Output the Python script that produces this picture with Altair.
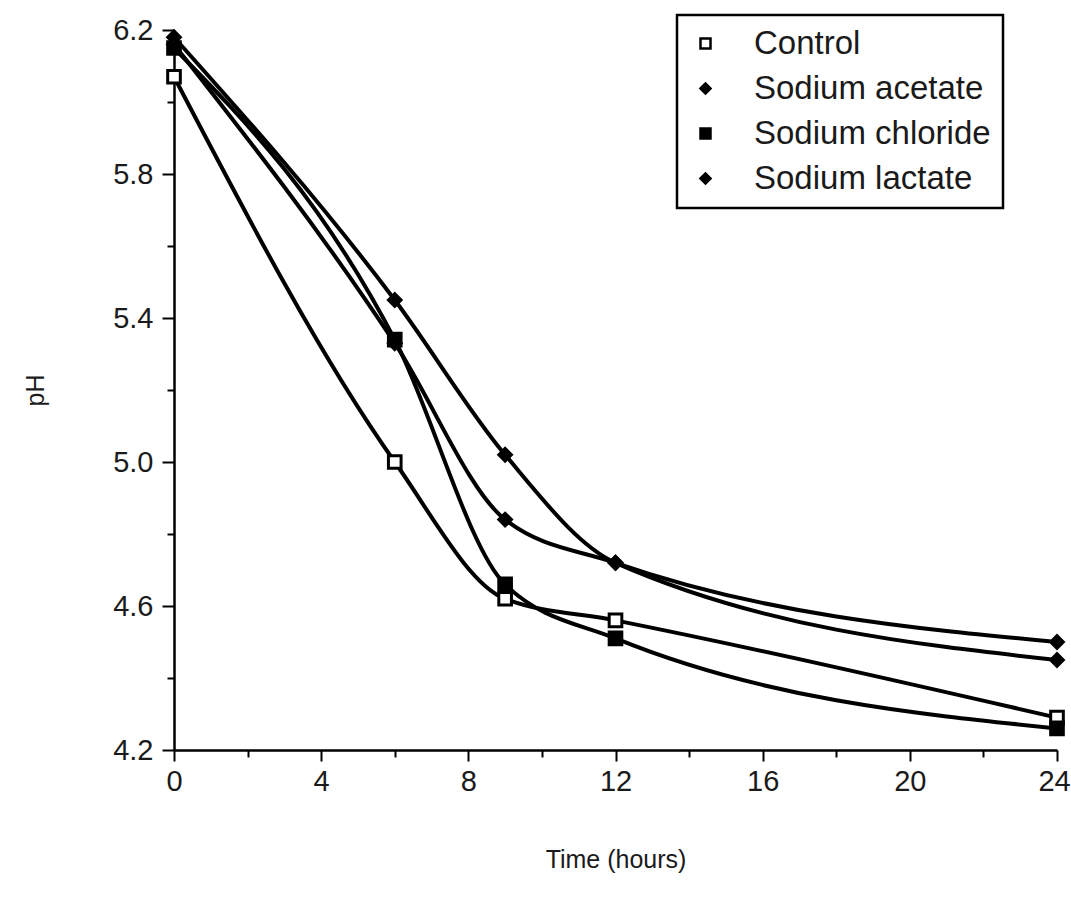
import altair as alt
import pandas as pd

# Sampling times (hours) and pH readings for each treatment
hours = [0, 6, 9, 12, 24]
series_names = ["Control", "Sodium acetate", "Sodium chloride", "Sodium lactate"]
control = [6.07, 5.00, 4.62, 4.56, 4.29]
sodium_acetate = [6.18, 5.45, 5.02, 4.72, 4.45]
sodium_chloride = [6.15, 5.34, 4.66, 4.51, 4.26]
sodium_lactate = [6.16, 5.33, 4.84, 4.72, 4.50]

# Axis tick values
x_ticks = [0, 2, 4, 6, 8, 10, 12, 14, 16, 18, 20, 22, 24]
y_ticks = [4.2, 4.4, 4.6, 4.8, 5.0, 5.2, 5.4, 5.6, 5.8, 6.0, 6.2]

marker_shapes = ["square", "diamond", "square", "diamond"]
marker_fills = ["white", "black", "black", "black"]
marker_strokes = ["black", "black", "black", "black"]

rows = []
for name, vals in zip(series_names, [control, sodium_acetate, sodium_chloride, sodium_lactate]):
    for h, v in zip(hours, vals):
        rows.append({"Series": name, "Time": h, "pH": v})
df = pd.DataFrame(rows)

FONT = "Liberation Sans"

x_enc = alt.X(
    "Time:Q",
    scale=alt.Scale(domain=[0, 24], nice=False, zero=False),
    axis=alt.Axis(
        values=x_ticks,
        labelExpr="datum.value % 4 == 0 ? datum.label : ''",
        tickSize={"condition": {"test": "datum.value % 4 != 0", "value": 7}, "value": 11},
        labelOffset={"condition": {"test": "datum.value == 24", "value": -3}, "value": 0},
        labelOverlap=False,
        labelFlush=False,
        labelPadding=6,
        title="Time (hours)",
        titlePadding=51,
        grid=False,
    ),
)
y_enc = alt.Y(
    "pH:Q",
    scale=alt.Scale(domain=[4.2, 6.2], nice=False, zero=False),
    axis=alt.Axis(
        values=y_ticks,
        labelExpr="round(datum.value * 10) % 4 == 2 ? format(datum.value, '.1f') : ''",
        tickSize={"condition": {"test": "round(datum.value * 10) % 4 == 0", "value": 7}, "value": 12},
        labelOverlap=False,
        labelFlush=False,
        labelPadding=9,
        title="pH",
        titlePadding=64,
        grid=False,
    ),
)

lines = alt.Chart(df).mark_line(
    color="black", strokeWidth=4, interpolate="monotone"
).encode(x=x_enc, y=y_enc, detail="Series:N")

points = alt.Chart(df).mark_point(
    filled=True, strokeWidth=3, size=160, opacity=1
).encode(
    x=x_enc,
    y=y_enc,
    shape=alt.Shape(
        "Series:N",
        scale=alt.Scale(domain=series_names, range=marker_shapes),
        legend=alt.Legend(title=None),
    ),
    fill=alt.Fill(
        "Series:N",
        scale=alt.Scale(domain=series_names, range=marker_fills),
        legend=alt.Legend(title=None),
    ),
    stroke=alt.Stroke(
        "Series:N",
        scale=alt.Scale(domain=series_names, range=marker_strokes),
        legend=alt.Legend(title=None),
    ),
)

chart = (
    alt.layer(lines, points)
    .properties(
        width=883,
        height=720,
        autosize=alt.AutoSizeParams(type="none"),
        padding={"left": 174, "top": 30, "right": 14, "bottom": 159},
        background="white",
    )
    .configure_view(stroke=None)
    .configure_axis(
        domainColor="black",
        domainWidth=2.5,
        tickColor="black",
        tickWidth=2,
        labelFont=FONT,
        labelFontSize=29,
        labelColor="#1a1a1a",
        titleFont=FONT,
        titleFontSize=25,
        titleFontWeight="normal",
        titleColor="#1a1a1a",
    )
    .configure_legend(
        orient="none",
        legendX=503,
        legendY=-15,
        strokeColor="black",
        strokeWidth=2.5,
        fillColor="white",
        padding=12,
        rowPadding=11,
        labelFont=FONT,
        labelFontSize=33,
        labelColor="#1a1a1a",
        labelLimit=0,
        labelOffset=32,
        symbolSize=100,
        symbolStrokeWidth=2.5,
        symbolOffset=0,
    )
)

chart.save("out.html", embed_options={"renderer": "svg", "actions": False})
